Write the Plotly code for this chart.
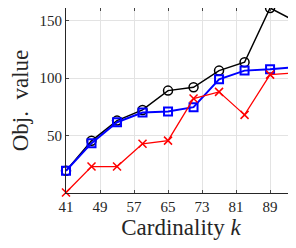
import plotly.graph_objects as go

k = [41, 47, 53, 59, 65, 71, 77, 83, 89, 95]
black_vals = [19.3, 45.4, 63.0, 72.3, 89.1, 92.0, 106.5, 113.8, 161.0, 149.5]
blue_vals = [19.3, 43.4, 61.6, 70.0, 70.9, 74.7, 99.0, 106.5, 107.7, 109.5]
red_vals = [0.4, 23.0, 23.0, 42.8, 45.6, 82.2, 88.0, 68.0, 103.0, 104.5]
x_ticks = [41, 49, 57, 65, 73, 81, 89]
y_ticks = [50, 100, 150]

fig = go.Figure()
fig.add_trace(go.Scatter(x=k, y=black_vals, mode="lines+markers",
                         line=dict(color="black", width=1.5),
                         marker=dict(symbol="circle-open", size=9, color="black", line=dict(width=1.5)),
                         cliponaxis=False, showlegend=False))
fig.add_trace(go.Scatter(x=k, y=blue_vals, mode="lines+markers",
                         line=dict(color="blue", width=2),
                         marker=dict(symbol="square-open", size=8, color="blue", line=dict(width=2)),
                         cliponaxis=False, showlegend=False))
fig.add_trace(go.Scatter(x=k, y=red_vals, mode="lines+markers",
                         line=dict(color="red", width=1.3),
                         marker=dict(symbol="x-thin-open", size=8, color="red", line=dict(width=1.5, color="red")),
                         cliponaxis=False, showlegend=False))

font = "Liberation Serif, DejaVu Serif, serif"
fig.update_layout(
    width=288, height=240,
    margin=dict(l=58, r=0, t=0, b=55),
    paper_bgcolor="white", plot_bgcolor="white",
    font=dict(family=font, color="#262626"),
)
fig.update_xaxes(range=[41, 95.1], tickvals=x_ticks, ticks="inside", ticklen=3,
                 showline=True, mirror="ticks", linecolor="#262626", linewidth=1,
                 showgrid=True, gridcolor="#e3e3e3", gridwidth=1, zeroline=False,
                 automargin=False,
                 tickfont=dict(size=15, family=font),
                 title=dict(text="Cardinality <i>k</i>", font=dict(size=23, family=font), standoff=2))
fig.update_yaxes(range=[0, 161], tickvals=y_ticks, ticks="inside", ticklen=3,
                 showline=True, mirror="ticks", linecolor="#262626", linewidth=1,
                 showgrid=True, gridcolor="#e3e3e3", gridwidth=1, zeroline=False,
                 automargin=False,
                 tickfont=dict(size=15, family=font),
                 title=dict(text="Obj.  value", font=dict(size=23, family=font), standoff=6))

fig.write_html("out.html")
